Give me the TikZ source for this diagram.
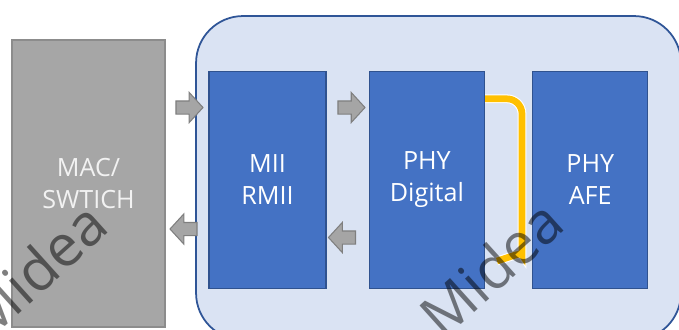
\documentclass[tikz,border=0pt]{standalone}
\usepackage{fontspec}
\setmainfont{Open Sans}
\usetikzlibrary{positioning,calc,shapes.arrows}
\definecolor{SocFill}{HTML}{DAE3F3}
\definecolor{SocLine}{HTML}{2F5597}
\definecolor{BlockBlue}{HTML}{4472C4}
\definecolor{BlockLine}{HTML}{2F528F}
\definecolor{MacGray}{HTML}{A6A6A6}
\definecolor{MacLine}{HTML}{8C8C8C}
\definecolor{FlowGray}{HTML}{A5A5A5}
\definecolor{FlowLine}{HTML}{7F7F7F}
\definecolor{LinkOrange}{HTML}{FFC000}
\tikzset{
  soc/.style={draw=SocLine, line width=1pt, fill=SocFill, rounded corners=0.94cm,
    minimum width=9.7cm, minimum height=6.48cm},
  block/.style={draw=BlockLine, line width=0.8pt, fill=BlockBlue, text=white,
    align=center, minimum width=2.3cm, minimum height=4.34cm,
    font=\fontsize{14.3}{18.2}\selectfont},
  macbox/.style={draw=MacLine, line width=0.8pt, fill=MacGray, text=white!95!black,
    align=center, minimum width=3.06cm, minimum height=5.74cm,
    font=\fontsize{14.3}{18.2}\selectfont},
  flow/.style={single arrow, draw=FlowLine, line width=0.6pt, fill=FlowGray,
    minimum height=0.54cm, minimum width=0.58cm, single arrow head extend=0.17cm,
    single arrow tip angle=95, inner sep=0.12cm},
  flowback/.style={flow, shape border rotate=180},
  orangewire/.style={draw=white, line width=0.6pt, double=LinkOrange,
    double distance=3.8pt, rounded corners=0.3cm},
  watermark/.style={text=black, opacity=0.5, rotate=42,
    font=\fontsize{33}{33}\selectfont}
}

\begin{document}
\begin{tikzpicture}[x=0.02cm, y=-0.02cm]
  \useasboundingbox (0,0) rectangle (679,329);
  \clip (0,0) rectangle (679,329);
  \node[macbox] (mac) at (88.5,183.5) {MAC/\\SWTICH};
  \node[soc] (soc) at (438.5,178) {};
  \node[block, minimum width=2.34cm] (mii) at (267.5,180) {MII\\RMII};
  \node[block, right=0.84cm of mii] (digital) {PHY\\Digital};
  \node[block, right=0.94cm of digital] (afe) {PHY\\AFE};
  % data paths
  \node[flow] (txmac) at (186.5,107.5) {};
  \node[flow] (txmii) at (348.5,107.5) {};
  \node[flowback] (rxmac) at (186.5,229) {};
  \node[flowback] (rxmii) at (345,237.5) {};
  % loopback
  \coordinate (loopend) at (497,261);
  \draw[orangewire] ($(digital.north east)+(0,28)$) -| (522,240)
    .. controls (522,252) and (510,257) .. (loopend);
  \node[watermark] (mark1) at (35,270) {Midea};
  \node[watermark] (mark2) at (491,268) {Midea};
\end{tikzpicture}
\end{document}
